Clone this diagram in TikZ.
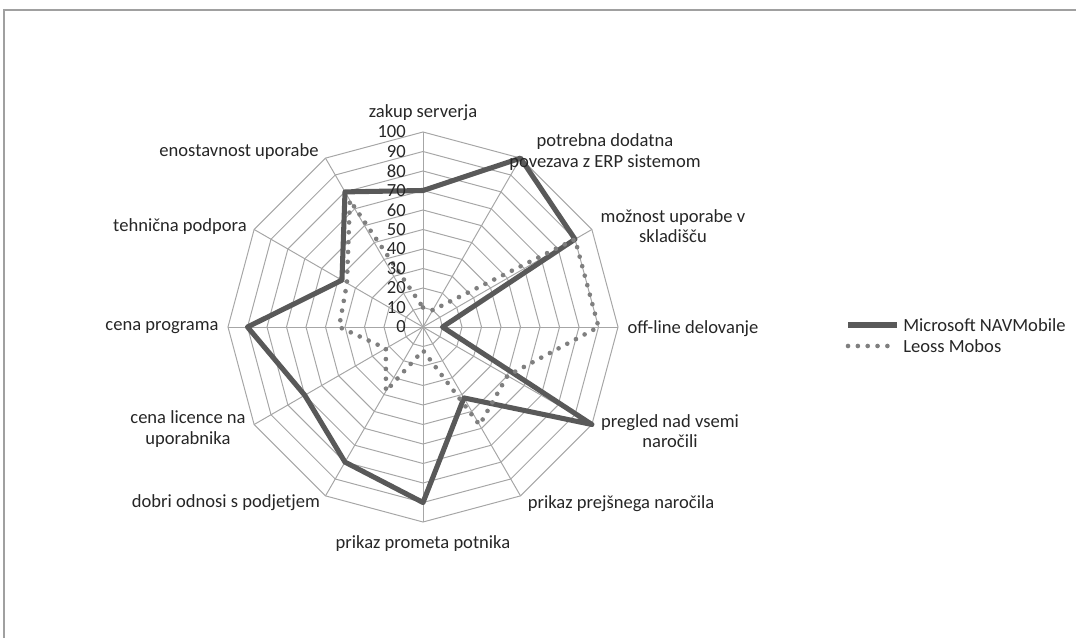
\documentclass[tikz,border=0pt]{standalone}
\usepackage{fontspec}
\setmainfont{Carlito}

\definecolor{gridgray}{HTML}{A6A6A6}
\definecolor{navgray}{HTML}{595959}
\definecolor{mobosgray}{HTML}{7F7F7F}
\definecolor{framegray}{HTML}{A0A0A0}

\tikzset{
  gridline/.style={gridgray, line width=0.7pt},
  navline/.style={navgray, line width=3.6pt, line join=round},
  mobosline/.style={mobosgray, line width=3.3pt, line cap=round, dash pattern=on 0pt off 7pt},
  axislabel/.style={font=\fontsize{13.2}{14.6}\selectfont, text=black!85, align=center, inner sep=0pt},
  ticklabel/.style={font=\fontsize{13.2}{14.6}\selectfont, text=black!85, anchor=east, inner sep=0pt},
}

\begin{document}
\begin{tikzpicture}[x=0.025cm, y=0.025cm]
      \useasboundingbox (0,0) rectangle (1076,638);
      \draw[framegray, line width=1.1pt] (4,0) -- (4,628) -- (1076,628);

      \coordinate (o) at (423,311);

      \begin{scope}[shift={(o)}]
      % rings and spokes
      \foreach \r in {19.5,39,...,195}
        \draw[gridline] (90:\r) -- (60:\r) -- (30:\r) -- (0:\r) -- (-30:\r) -- (-60:\r) -- (-90:\r)
          -- (-120:\r) -- (-150:\r) -- (-180:\r) -- (-210:\r) -- (-240:\r) -- cycle;
      \foreach \a in {90,60,...,-240}
        \draw[gridline] (0,0) -- (\a:195);

      % Microsoft NAVMobile
      \draw[navline] (90:136.5) -- (60:195) -- (30:175.5) -- (0:19.5) -- (-30:195) -- (-60:81.9)
        -- (-90:175.5) -- (-120:156) -- (-150:136.5) -- (-180:175.5) -- (-210:93.6) -- (-240:156) -- cycle;

      % Leoss Mobos
      \draw[mobosline] (90:19.5) -- (60:19.5) -- (30:175.5) -- (0:175.5) -- (-30:97.5) -- (-60:113.1)
        -- (-90:23.4) -- (-120:74.1) -- (-150:42.9) -- (-180:83.9) -- (-210:87.8) -- (-240:146.3) -- cycle;
      \end{scope}

      % scale
      \foreach \v in {0,10,...,100}
        \node[ticklabel] (tick\v) at (406,311+1.95*\v) {\v};

      % axis names
      \node[axislabel] (zakup) at (423,525) {zakup serverja};
      \node[axislabel] (erp) at (605,486) {potrebna dodatna\\povezava z ERP sistemom};
      \node[axislabel] (skladisce) at (673,412) {možnost uporabe v\\skladišču};
      \node[axislabel] (offline) at (693,309) {off-line delovanje};
      \node[axislabel] (pregled) at (670,207) {pregled nad vsemi\\naročili};
      \node[axislabel] (prejsnje) at (621,134) {prikaz prejšnega naročila};
      \node[axislabel] (promet) at (423,94) {prikaz prometa potnika};
      \node[axislabel] (odnosi) at (226,135) {dobri odnosi s podjetjem};
      \node[axislabel] (licenca) at (188,209) {cena licence na\\uporabnika};
      \node[axislabel] (program) at (162,310) {cena programa};
      \node[axislabel] (podpora) at (180,411) {tehnična podpora};
      \node[axislabel] (uporaba) at (239,486) {enostavnost uporabe};

      % legend
      \coordinate (navA) at (848,313);
      \coordinate (navB) at (897,313);
      \draw[navline] (navA) -- (navB);
      \node[axislabel, anchor=west] (navtext) at (903,313) {Microsoft NAVMobile};
      \coordinate (mobA) at (848,292);
      \coordinate (mobB) at (897,292);
      \draw[mobosline] (mobA) -- (mobB);
      \node[axislabel, anchor=west] (mobtext) at (903,292) {Leoss Mobos};
\end{tikzpicture}
\end{document}
